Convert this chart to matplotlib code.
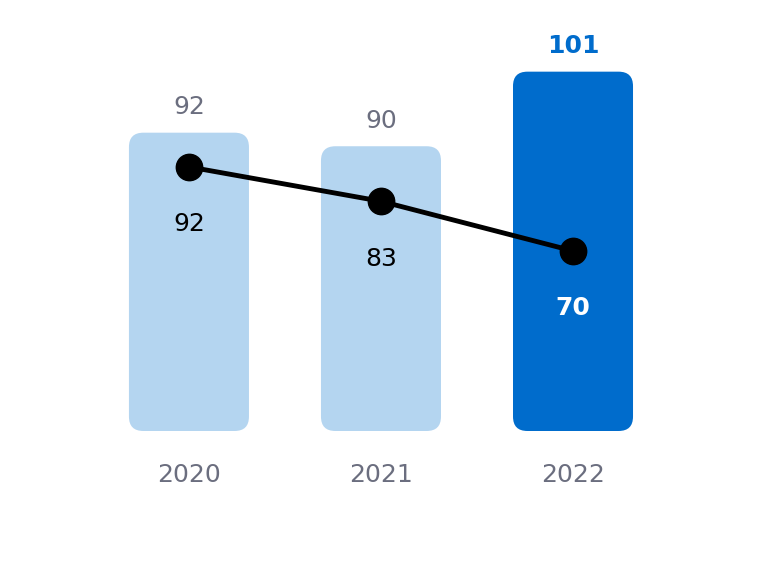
import matplotlib
matplotlib.use("Agg")
import matplotlib.pyplot as plt
from matplotlib.patches import FancyBboxPatch

years = ["2020", "2021", "2022"]
bar_values = [92, 90, 101]
line_values = [92, 83, 70]
bar_colors = ["#b4d5f0", "#b4d5f0", "#006ccc"]

fig = plt.figure(figsize=(7.61, 5.71), dpi=100)
ax = fig.add_axes([0, 0, 1, 1])
ax.set_xlim(-0.984, 2.979)
ax.set_ylim(27.35, 111.57)
ax.axis("off")
x = list(range(len(years)))
bars = ax.bar(x, [v - 48 for v in bar_values], bottom=48, width=0.625, color=bar_colors)
for b, c in zip(bars, bar_colors):
    b.set_visible(False)
    p = FancyBboxPatch((b.get_x(), b.get_y()), b.get_width(), b.get_height(),
                       boxstyle="round,pad=0,rounding_size=0.075", mutation_aspect=28.3,
                       facecolor=c, edgecolor="none")
    ax.add_patch(p)
grey = "#6b6e7f"
for i, v in enumerate(bar_values):
    last = i == len(years) - 1
    ax.text(i, v + 2.0, str(v), ha="center", va="bottom", fontsize=18,
            color="#006ccc" if last else grey, fontweight="bold" if last else "normal")
    ax.text(i, 41.5, years[i], ha="center", va="center", fontsize=18, color=grey)

ax2 = ax.twinx()
ax2.set_ylim(-13.8, 135.7)
ax2.axis("off")
ax2.plot(x, line_values, color="black", lw=3.5, marker="o", ms=19, zorder=5)
for i, v in enumerate(line_values):
    last = i == len(years) - 1
    ax2.text(i, v - 15, str(v), ha="center", va="center", fontsize=18,
             color="white" if last else "black", fontweight="bold" if last else "normal")
fig.savefig("out.png", dpi=100)
